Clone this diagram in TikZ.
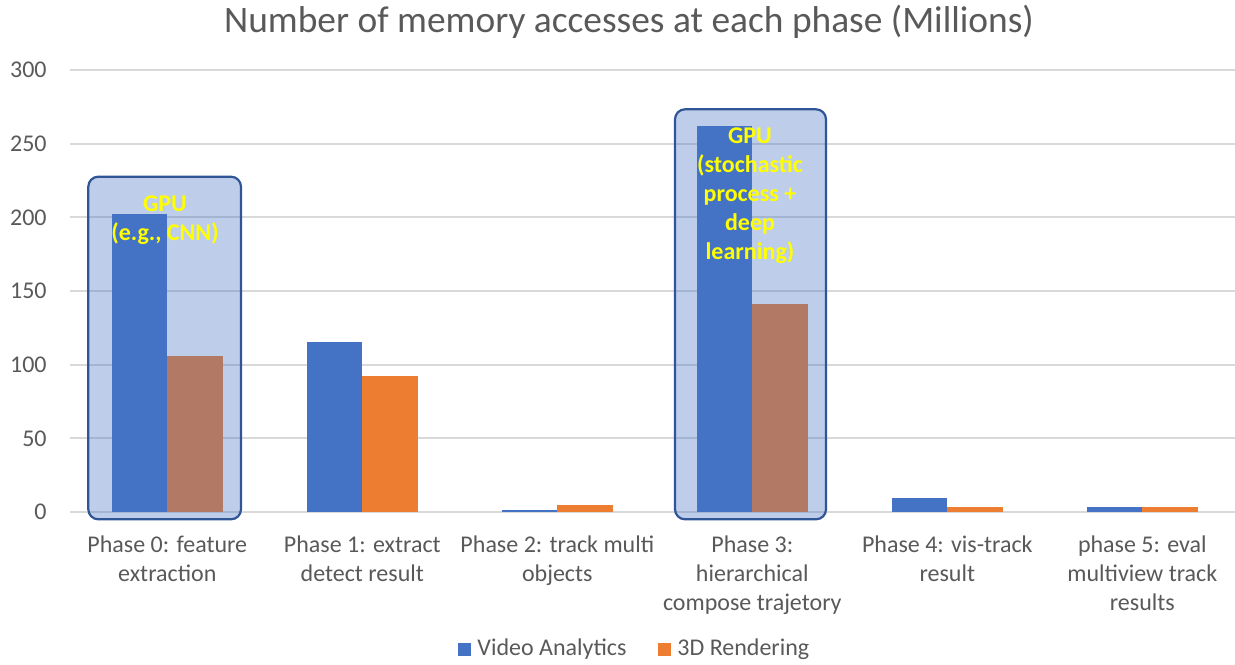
\documentclass[tikz,border=0pt]{standalone}
\usepackage{fontspec}
\setmainfont{Carlito}
\definecolor{txtgray}{HTML}{595959}
\definecolor{gridgray}{HTML}{D9D9D9}
\definecolor{vablue}{HTML}{4472C4}
\definecolor{rdorange}{HTML}{ED7D31}
\definecolor{boxedge}{HTML}{2F5597}
\definecolor{gpuyellow}{HTML}{FFFF00}
\tikzset{
  gridline/.style={draw=gridgray, line width=1pt},
  vabar/.style={fill=vablue, draw=none},
  rdbar/.style={fill=rdorange, draw=none},
  gpubox/.style={fill=vablue, fill opacity=0.35, draw=boxedge, draw opacity=1, line width=1.1pt, rounded corners=5pt},
  gputext/.style={text=gpuyellow, font=\fontsize{12}{14.6}\selectfont\bfseries, align=center, inner sep=0pt},
  ticklabel/.style={text=txtgray, font=\fontsize{12}{14}\selectfont, anchor=east, inner sep=0pt},
  catlabel/.style={text=txtgray, font=\fontsize{12}{14.65}\selectfont, align=center, anchor=base, inner sep=0pt},
  legendtext/.style={text=txtgray, font=\fontsize{12}{14}\selectfont, anchor=west, inner sep=0pt},
  titletext/.style={text=txtgray, font=\fontsize{18.7}{20}\selectfont, inner sep=0pt},
}
\begin{document}
\begin{tikzpicture}[x=0.5pt, y=-0.5pt]
\useasboundingbox (0,0) rectangle (1235,664);
% value axis: 0 at y=512, 1.4733 px per million
\def\vy#1{{512-1.4733*(#1)}}
% gridlines and tick labels
\foreach \v in {0,50,...,300} {
  \draw[gridline] (70,\vy{\v}) -- (1235,\vy{\v});
  \node[ticklabel] (tick\v) at (47,\vy{\v}) {\v};
}
% bars: category i is centred at 167.3+195*i
\foreach \i/\a/\b in {0/202/106, 1/115.4/92.3, 2/1.5/4.5, 3/262/141.4, 4/9.3/3.2, 5/3.2/3.2} {
  \pgfmathsetmacro\cx{167.3+195*\i}
  \fill[vabar] ({\cx-55.5},512) rectangle (\cx,\vy{\a});
  \fill[rdbar] (\cx,512) rectangle ({\cx+55.5},\vy{\b});
}
% GPU highlight boxes
\draw[gpubox] (88.3,176.7) rectangle (241,519.3);
\draw[gpubox] (675,109.3) rectangle (826,519.3);
\node[gputext, anchor=north] (gpu0) at (165,195) {GPU\\(e.g., CNN)};
\node[gputext, anchor=north] (gpu3) at (750,127) {GPU\\(stochastic\\process +\\deep\\learning)};
% category labels (anchored at the baseline of their last line)
\node[catlabel] (cat0) at (167.3,581.3) {Phase 0: feature\\extraction};
\node[catlabel] (cat1) at (362.3,581.3) {Phase 1: extract\\detect result};
\node[catlabel] (cat2) at (557.3,581.3) {Phase 2: track multi\\objects};
\node[catlabel] (cat3) at (752.3,610.6) {Phase 3:\\hierarchical\\compose trajetory};
\node[catlabel] (cat4) at (947.3,581.3) {Phase 4: vis-track\\result};
\node[catlabel] (cat5) at (1142.3,610.6) {phase 5: eval\\multiview track\\results};
% legend
\fill[vabar] (458,643) rectangle (471,656);
\node[legendtext] (leg1) at (477,649.5) {Video Analytics};
\fill[rdbar] (658,643) rectangle (671,656);
\node[legendtext] (leg2) at (677,649.5) {3D Rendering};
% title
\node[titletext] (title) at (629,22) {Number of memory accesses at each phase (Millions)};
\end{tikzpicture}
\end{document}
